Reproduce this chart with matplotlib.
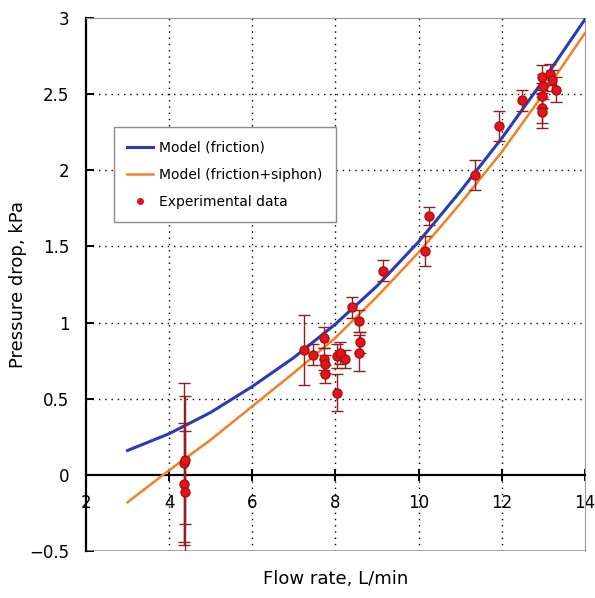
import matplotlib.pyplot as plt

# model curves
flow_model = [3, 4, 5, 6, 7, 8, 9, 10, 11, 12, 13, 14]
dp_friction = [0.16, 0.27, 0.41, 0.58, 0.77, 0.99, 1.24, 1.53, 1.86, 2.21, 2.59, 2.99]
dp_siphon = [-0.18, 0.03, 0.23, 0.45, 0.67, 0.90, 1.17, 1.46, 1.78, 2.12, 2.50, 2.90]

# experimental points
flow_exp = [4.35, 4.37, 4.35, 4.38, 7.24, 7.46, 7.72, 7.72, 7.76, 7.74, 8.03, 8.03,
            8.10, 8.22, 8.39, 8.57, 8.60, 8.57, 9.15, 10.15, 10.25, 11.35, 11.93,
            12.48, 12.96, 13.00, 12.96, 12.98, 12.98, 13.15, 13.20, 13.30]
dp_exp = [0.08, 0.10, -0.06, -0.11, 0.82, 0.79, 0.90, 0.76, 0.73, 0.66, 0.78, 0.54,
          0.80, 0.76, 1.10, 1.01, 0.87, 0.80, 1.34, 1.47, 1.70, 1.97, 2.29,
          2.46, 2.61, 2.55, 2.49, 2.41, 2.38, 2.63, 2.59, 2.53]
dp_err = [0.52, 0.42, 0.40, 0.40, 0.23, 0.07, 0.07, 0.07, 0.06, 0.06, 0.08, 0.12,
          0.07, 0.06, 0.07, 0.07, 0.07, 0.12, 0.07, 0.10, 0.06, 0.10, 0.10,
          0.07, 0.08, 0.08, 0.08, 0.10, 0.10, 0.07, 0.07, 0.08]

x_ticks = [2, 4, 6, 8, 10, 12, 14]
y_ticks = [-0.5, 0, 0.5, 1, 1.5, 2, 2.5, 3]

fig = plt.figure(figsize=(5.95, 5.98), dpi=100)
ax = fig.add_axes([0.1445, 0.0786, 0.8385, 0.8914])

for xv in x_ticks[1:-1]:
    ax.axvline(xv, color="black", lw=1.0, ls=(0, (1, 3.5)), zorder=1)
for yv in y_ticks[2:-1]:
    ax.axhline(yv, color="black", lw=1.0, ls=(0, (1, 3.5)), zorder=1)

ax.plot(flow_model, dp_friction, color="#2b3bb5", lw=2.2, label="Model (friction)", zorder=3)
ax.plot(flow_model, dp_siphon, color="#f28024", lw=1.8, label="Model (friction+siphon)", zorder=3)
ax.errorbar(flow_exp, dp_exp, yerr=dp_err, fmt="o", color="#e3141b", mec="#b01010",
            ms=6.5, ecolor="#8e1f23", elinewidth=1.0, capsize=4, capthick=1.0, zorder=4)
ax.plot([], [], "o", color="#e3141b", ms=4, label="Experimental data")

ax.set_xlim(2, 14)
ax.set_ylim(-0.5, 3)
ax.set_xticks(x_ticks)
ax.set_yticks(y_ticks)
ax.set_yticklabels(["\u22120.5", "0", "0.5", "1", "1.5", "2", "2.5", "3"])

ax.spines["bottom"].set_position(("data", 0))
ax.spines["bottom"].set_linewidth(1.6)
ax.spines["left"].set_linewidth(1.6)
ax.spines["top"].set_color("#9a9a9a")
ax.spines["right"].set_color("#9a9a9a")
ax.axhline(-0.5, color="#9a9a9a", lw=1.2, zorder=2)

ax.tick_params(axis="x", direction="inout", length=8, width=1.4, labelsize=12, pad=10)
ax.tick_params(axis="y", direction="in", length=6, width=1.4, labelsize=12, pad=12)

ax.set_xlabel("Flow rate, L/min", fontsize=13)
ax.xaxis.set_label_coords(0.5, -0.035)
ax.set_ylabel("Pressure drop, kPa", fontsize=13)
ax.yaxis.set_label_coords(-0.118, 0.5)

leg = ax.legend(loc="upper left", bbox_to_anchor=(0.056, 0.795), fontsize=10,
                fancybox=False, edgecolor="#8a8a8a", framealpha=1, borderaxespad=0,
                handlelength=1.9, labelspacing=0.95, borderpad=0.95, handletextpad=0.4)
leg.get_frame().set_linewidth(1.0)

fig.savefig("out.png", dpi=100)
